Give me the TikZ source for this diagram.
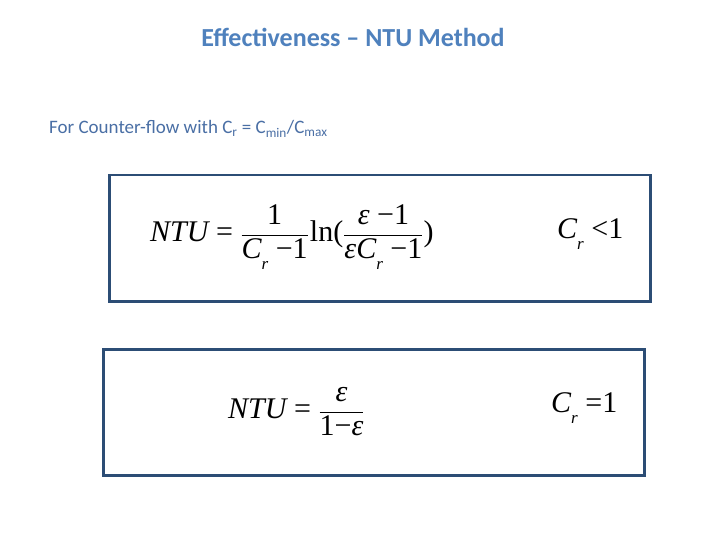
\documentclass[tikz,border=0pt]{standalone}
\usepackage{fontspec}
\setmainfont{Carlito}
\newfontfamily\tms{Liberation Serif}
\definecolor{titleblue}{HTML}{4F81BD}
\definecolor{subblue}{HTML}{4A6FA5}
\definecolor{boxblue}{HTML}{2C4D75}
\newcommand\myfr[2]{$\displaystyle\frac{\hbox{#1}}{\hbox{#2}}$}
\newcommand\myit[1]{{\itshape #1}}
\newcommand\Cr{\myit{C}\raisebox{-0.35em}{\fontsize{17}{18}\selectfont\myit{r}}}
\tikzset{frame/.style={draw=boxblue,line width=2.5pt},
eq/.style={inner sep=0pt,font=\tms\fontsize{30}{34}\selectfont}}
\begin{document}
\begin{tikzpicture}[x=1pt,y=-1pt]
\useasboundingbox[fill=white] (0,0) rectangle (720,540);
\node[text=titleblue,font=\fontsize{26}{30}\selectfont\bfseries] (title) at (353,37) {Effectiveness – NTU Method};
\node[text=subblue,anchor=west,font=\fontsize{19}{22}\selectfont,inner sep=0pt] (sub) at (49,129) {For Counter-flow with C\textsubscript{r} = C\textsubscript{min}/C\textsubscript{max}};
\node[frame,minimum width=541,minimum height=126,anchor=north west] (b1) at (108,174) {};
\node[frame,minimum width=541,minimum height=126,anchor=north west] (b2) at (102,348) {};
\node[eq,anchor=west] (e1) at (150,237) {\myit{NTU} = \myfr{1}{\Cr\ −1}\kern1pt ln(\myfr{\myit{ε} −1}{\myit{ε}\Cr\ −1})};
\node[eq,anchor=west] (c1) at (557,234) {\Cr\ {\textless}1};
\node[eq,anchor=west] (e2) at (228,412) {\myit{NTU} = \myfr{\myit{ε}}{1−\myit{ε}}};
\node[eq,anchor=west] (c2) at (551,408) {\Cr\ =1};
\end{tikzpicture}
\end{document}
